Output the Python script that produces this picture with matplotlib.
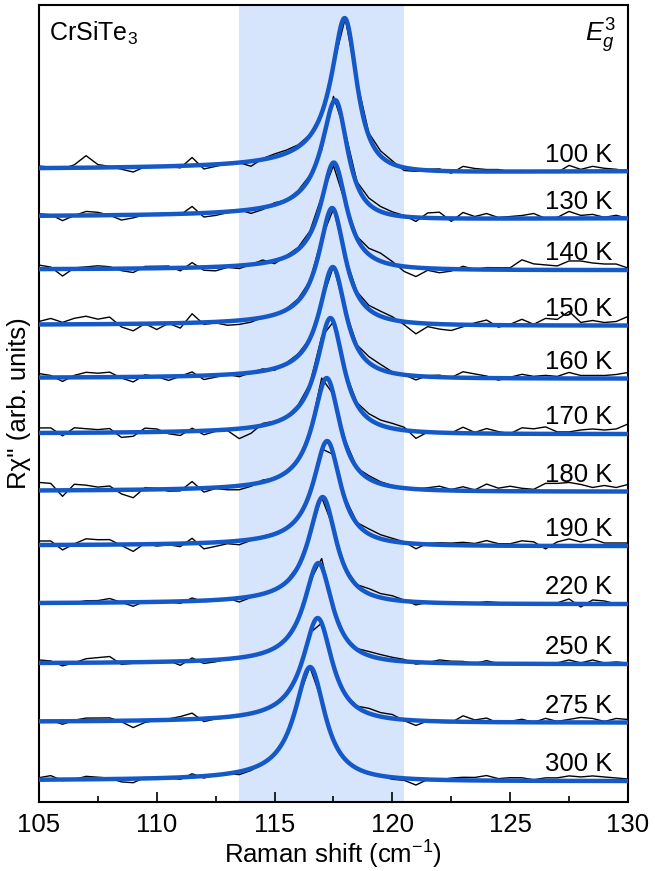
import numpy as np
import matplotlib
matplotlib.use("Agg")
from matplotlib import pyplot as plt
from matplotlib.ticker import MultipleLocator

plt.rcParams['font.family'] = ['Liberation Sans', 'DejaVu Sans']
plt.rcParams['mathtext.fontset'] = 'custom'
plt.rcParams['mathtext.rm'] = 'Liberation Sans'
plt.rcParams['mathtext.it'] = 'Liberation Sans:italic'

# temperatures, top to bottom
temps = ['100 K', '130 K', '140 K', '150 K', '160 K', '170 K',
         '180 K', '190 K', '220 K', '250 K', '275 K', '300 K']
# vertical offset of each spectrum (arb. units)
offsets = [630.5, 583.5, 532, 476.5, 423.5, 368, 310.5, 256, 198, 138, 79.5, 21]
# fit parameters
centers = [118.04, 117.64, 117.54, 117.47, 117.50, 117.40,
           117.24, 117.26, 117.07, 116.89, 116.86, 116.54]
heights = [153.5, 118.5, 107.5, 117.5, 111.5, 116, 113.5, 105, 107, 101, 104.5, 114]
fwhm = [1.32, 1.34, 1.35, 1.37, 1.37, 1.40, 1.42, 1.42, 1.44, 1.47, 1.52, 1.56]
asym_q = [-10, -10, -25, -25, -25, -25, -25, -25, -25, -25, -25, -25]

# measured points: 105 ... 130 cm-1 in 0.5 steps, deviation of data from fit
shift = np.arange(105.0, 130.01, 0.5)

res_100 = [2, 1, -1, 3, 12, 3, 1, -2, -5, 0, 0, 0, -2, 8, -4, -2, 0, 0,
           -5, 1, 3, 3, 2, 1, 0, 0, 0, 2, 3, 5, 3,
           -3, -2, 1, 2, -2, 5, 3, 2, 2, 0, 1, 0, 0, -1, 6, 2, 5, 3, 2, 0]
res_130 = [2, 1, -5, 0, 4, 3, 0, -5, -3, 0, -1, -1, -1, 7, -4, -3, -1, 1,
           -4, -2, 2, 0, 2, 2, -5, 5, 5, 3, 6, 5, 3,
           1, -4, 5, 6, -3, 6, 2, 5, 1, 2, 3, 5, 0, 1, 7, 3, 4, 1, 3, 0]
res_140 = [4, 2, -7, 1, 2, 3, 2, -2, -4, 2, 2, 2, -3, 5, -3, -4, -1, -3,
           0, 3, -3, 1, 2, 3, 4, -3, -2, 2, 6, 8, 3,
           -5, -9, -2, -4, -2, 3, 0, 2, 2, 2, 10, 6, 5, 4, 9, 9, 7, 6, 6, 2]
res_150 = [3, 6, 2, 6, 8, 5, 7, -3, -7, 0, -6, 0, -5, 9, -2, -1, -4, -4,
           -3, 0, 0, 1, 2, 1, 3, 0, 0, 2, 4, 5, 3,
           -3, -11, -3, -5, -6, -2, 2, 5, -2, 1, 6, 1, 7, 6, 14, 3, 5, 3, 4, 9]
res_160 = [4, 2, -4, 2, 5, 4, 5, -1, -5, 2, 0, -4, 0, 4, -4, -2, 0, -3,
           0, 2, -2, 1, 2, 0, 0, 1, 0, 2, 6, 5, 1,
           0, -4, 1, 2, 0, 6, 4, 2, -2, 1, 4, 2, 3, 2, 6, 3, 3, 3, 4, 6]
res_170 = [5, 5, -3, 5, 4, 3, 4, -5, -4, 4, 3, -2, -4, 3, -4, -1, -1, -10,
           -6, 2, 1, 0, 2, 2, 6, 0, 0, 2, 5, 5, 5,
           3, -7, 0, 0, 0, 6, 1, 5, 2, 0, 6, 5, 7, 2, 2, 4, 5, 4, 5, 10]
res_180 = [8, 7, -6, 6, 5, 3, 4, -4, -8, 2, 1, -2, -2, 7, -4, -1, -3, -4,
           -2, 2, 0, 1, -1, 0, 9, 0, 3, 0, 3, 2, 1,
           -1, 0, 2, 4, 1, 4, 1, 7, 3, 5, 3, 2, 8, 8, 9, 7, 4, 6, 4, 7]
res_190 = [4, 4, -5, 1, 6, 5, 5, -1, -7, 1, -2, -1, -3, 5, -6, -4, -2, -4,
           -1, 1, 1, 0, 0, 0, 2, 0, 2, 1, 5, 4, 3,
           1, -5, 1, 2, 2, 3, 2, 5, 2, 2, 5, 4, -3, 4, 7, 4, 7, 3, 3, 3]
res_220 = [1, 0, -1, 0, 2, 2, 4, 0, -4, 1, 1, 0, -2, 3, -1, -1, 1, -4,
           -1, 0, -1, 1, 1, 0, 0, 1, 0, 1, 5, 4, 4,
           1, -3, 0, 1, 0, 1, 0, 2, 1, 0, 0, 1, -1, 1, 5, -3, 4, 3, 0, 0]
res_250 = [3, 2, -3, 0, 4, 5, 6, -2, -1, 0, 1, 1, -4, 3, -3, -2, 0, 0,
           0, 1, 0, 1, 0, 0, 8, 0, 0, 1, 4, 4, 3,
           2, -2, 0, 3, 2, 2, 0, 3, 0, 0, 0, 0, -1, 1, 4, 1, 4, 1, 2, 1]
res_275 = [1, 1, -3, 1, 3, 3, 3, -1, -7, -2, 0, 1, 3, 6, -3, -1, -1, -1,
           0, 1, 0, 1, 0, 1, 0, 0, 0, 1, 5, 4, 4,
           -1, -5, 0, -1, -1, 6, 2, 4, -1, 1, 3, 0, 4, 1, 3, 5, 4, 1, 4, 3]
res_300 = [2, 4, -1, 0, 3, 2, 1, -3, -4, 1, 0, 0, -2, 3, -2, 0, 0, -3,
           -2, 0, 1, 0, 1, 0, 0, 0, 0, 0, 0, 0, -2,
           -2, -6, 0, 0, 2, 3, 3, 5, 2, 3, 3, 1, 3, 3, 5, 4, 5, 4, 3, 2]

residuals = [res_100, res_130, res_140, res_150, res_160, res_170,
             res_180, res_190, res_220, res_250, res_275, res_300]

fit_color = '#1558c8'
band_color = '#d6e5fb'


def fano(x, x0, h, w, q):
    eps = (x - x0) / (w / 2)
    return h / (1 + q ** 2) * (q + eps) ** 2 / (1 + eps ** 2)


fig = plt.figure(figsize=(6.55, 8.71), dpi=100)
ax = fig.add_axes([0.0595, 0.0792, 0.8992, 0.9150])

ax.axvspan(113.5, 120.5, color=band_color, lw=0, zorder=0)

xfit = np.linspace(105, 130, 1200)
for i in range(len(temps)):
    base = offsets[i]
    data = base + fano(shift, centers[i], heights[i], fwhm[i], asym_q[i]) + np.array(residuals[i])
    fit = base + fano(xfit, centers[i], heights[i], fwhm[i], asym_q[i])
    ax.plot(shift, data, color='black', lw=1.0, zorder=2)
    ax.plot(xfit, fit, color=fit_color, lw=3.2, zorder=3, solid_capstyle='round')
    ax.text(129.33, base + 10, temps[i], ha='right', va='baseline', fontsize=18.5, zorder=4)

ax.text(105.42, 761, 'CrSiTe$_3$', ha='left', va='baseline', fontsize=18)
ax.text(129.5, 760, r'$E_g^{\mathit{3}}$', ha='right', va='baseline', fontsize=19)

ax.set_xlim(105, 130)
ax.set_ylim(0, 797)
ax.set_yticks([])
ax.xaxis.set_major_locator(MultipleLocator(5))
ax.xaxis.set_minor_locator(MultipleLocator(2.5))
ax.tick_params(axis='x', which='major', direction='in', length=7, width=1.2,
               labelsize=18.5, pad=8)
ax.tick_params(axis='x', which='minor', direction='in', length=4, width=1.2)
for sp in ax.spines.values():
    sp.set_linewidth(1.5)

ax.set_xlabel('Raman shift (cm$^{-1}$)', fontsize=18.5, labelpad=1)
ax.set_ylabel("R\u03c7'' (arb. units)", fontsize=18.5, labelpad=6)

fig.savefig('out.png', dpi=100)
